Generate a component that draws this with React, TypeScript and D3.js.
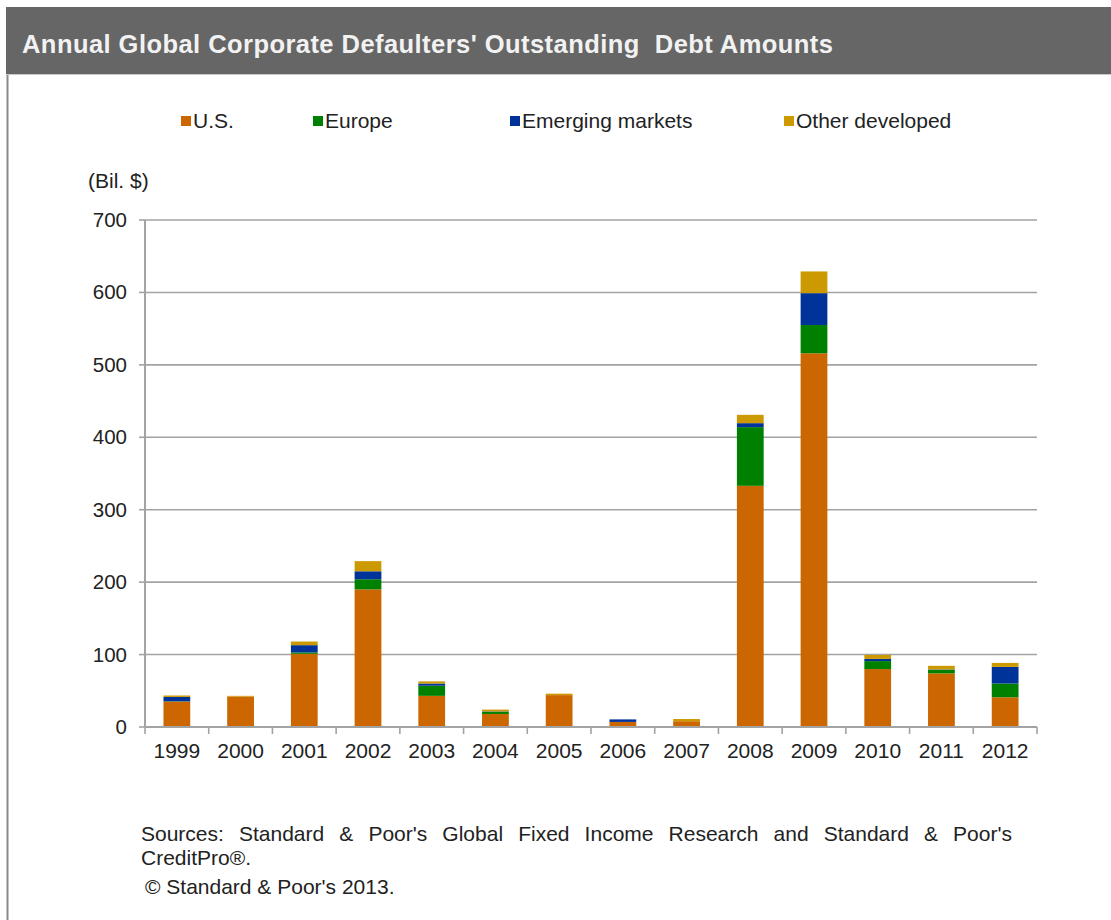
import React, { useLayoutEffect, useRef } from "react";
import * as d3 from "d3";

const years = ["1999","2000","2001","2002","2003","2004","2005","2006","2007","2008","2009","2010","2011","2012"];
const seriesNames = ["U.S.", "Europe", "Emerging markets", "Other developed"];
const seriesColors = ["#CC6600", "#008000", "#003399", "#CC9900"];
const usValues = [35, 42, 101, 190, 43, 18, 44, 7, 8, 333, 516, 80, 74, 41];
const europeValues = [0.5, 0, 2, 14, 14, 3, 0, 0, 0, 81, 39, 11, 5, 19];
const emergingValues = [6, 0, 10, 11, 3, 0.5, 0, 3.5, 0, 5.5, 44, 3, 0.5, 23];
const otherValues = [2, 1, 5, 14, 3, 2.5, 2, 0, 3, 11.5, 30, 5.5, 5, 5.5];
const yTicks = [0, 100, 200, 300, 400, 500, 600, 700];
const sourceLine = "Sources: Standard & Poor's Global Fixed Income Research and Standard & Poor's";

const FONT = "'Liberation Sans', Arial, Helvetica, sans-serif";

export default function App() {
  const W = 1111, H = 920;
  const left = 145, right = 1037, top = 220, bottom = 727;
  const srcRef = useRef<SVGTextElement>(null);

  useLayoutEffect(() => {
    const el = srcRef.current;
    if (!el) return;
    el.setAttribute("word-spacing", "0");
    const natural = el.getComputedTextLength();
    const spaces = (sourceLine.match(/ /g) || []).length;
    const ws = Math.max(0, (871 - natural) / spaces);
    el.setAttribute("word-spacing", String(ws));
  }, []);

  const x = d3.scaleBand<string>().domain(years).range([left, right]).paddingInner(0.58).paddingOuter(0.29);
  const y = d3.scaleLinear().domain([0, 700]).range([bottom, top]);

  const rows = years.map((yr, i) => ({
    year: yr,
    us: usValues[i],
    europe: europeValues[i],
    em: emergingValues[i],
    other: otherValues[i],
  }));
  const keys = ["us", "europe", "em", "other"];
  const stacked = d3.stack<any>().keys(keys)(rows);

  const step = x.step();
  const x0 = x.range()[0];

  const legendX = [181, 313, 510, 784];

  return (
    <div style={{ position: "absolute", left: 0, top: 0, width: W, height: H, background: "#fff" }}>
      <svg width={W} height={H} style={{ display: "block", fontFamily: FONT }}>
        <rect x={0} y={0} width={W} height={H} fill="#fff" />
        {/* header */}
        <rect x={6} y={7} width={W - 6} height={67} fill="#666666" />
        <line x1={6} x2={W} y1={74.5} y2={74.5} stroke="#c8c8c8" strokeWidth={1} />
        <line x1={7.5} x2={7.5} y1={75} y2={H} stroke="#8a8a8a" strokeWidth={2} />
        <text x={22} y={53} fill="#f2f2f2" fontSize={25.5} fontWeight="bold" textLength={811} lengthAdjust="spacing" style={{ whiteSpace: "pre" }}>
          {"Annual Global Corporate Defaulters' Outstanding  Debt Amounts"}
        </text>

        {/* legend */}
        {seriesNames.map((n, i) => (
          <g key={n}>
            <rect x={legendX[i]} y={116} width={10} height={10} fill={seriesColors[i]} />
            <text x={legendX[i] + 12} y={128} fontSize={21} fill="#222">{n}</text>
          </g>
        ))}

        <text x={88} y={188} fontSize={21} fill="#222">(Bil. $)</text>

        {/* gridlines */}
        {yTicks.filter(t => t > 0).map(t => (
          <line key={t} x1={left} x2={right} y1={y(t)} y2={y(t)} stroke="#a3a3a3" strokeWidth={1.6} />
        ))}
        {/* y ticks & labels */}
        {yTicks.map(t => (
          <g key={"yt" + t}>
            <line x1={139} x2={left} y1={y(t)} y2={y(t)} stroke="#a3a3a3" strokeWidth={1.6} />
            <text x={127} y={y(t) + 7} textAnchor="end" fontSize={20.5} fill="#222">{t}</text>
          </g>
        ))}

        {/* bars */}
        {stacked.map((s, si) => (
          <g key={s.key} fill={seriesColors[si]}>
            {s.map((d: any, i: number) => {
              const h = y(d[0]) - y(d[1]);
              if (h <= 0) return null;
              return <rect key={i} x={x(years[i])} y={y(d[1])} width={x.bandwidth()} height={h} />;
            })}
          </g>
        ))}

        {/* axes */}
        <line x1={left} x2={left} y1={top} y2={bottom} stroke="#a3a3a3" strokeWidth={2} />
        <line x1={left} x2={right} y1={bottom} y2={bottom} stroke="#a3a3a3" strokeWidth={2} />
        {d3.range(years.length + 1).map(i => (
          <line key={"xt" + i} x1={x0 + i * step} x2={x0 + i * step} y1={bottom} y2={bottom + 7} stroke="#a3a3a3" strokeWidth={1.6} />
        ))}
        {years.map(yr => (
          <text key={yr} x={(x(yr) as number) + x.bandwidth() / 2} y={758} textAnchor="middle" fontSize={21} fill="#222">{yr}</text>
        ))}

        {/* footer */}
        <text ref={srcRef} x={141} y={841} fontSize={21} fill="#222">{sourceLine}</text>
        <text x={141} y={865} fontSize={21} fill="#222">CreditPro®.</text>
        <text x={145} y={894} fontSize={21} fill="#222">© Standard &amp; Poor's 2013.</text>
      </svg>
    </div>
  );
}
